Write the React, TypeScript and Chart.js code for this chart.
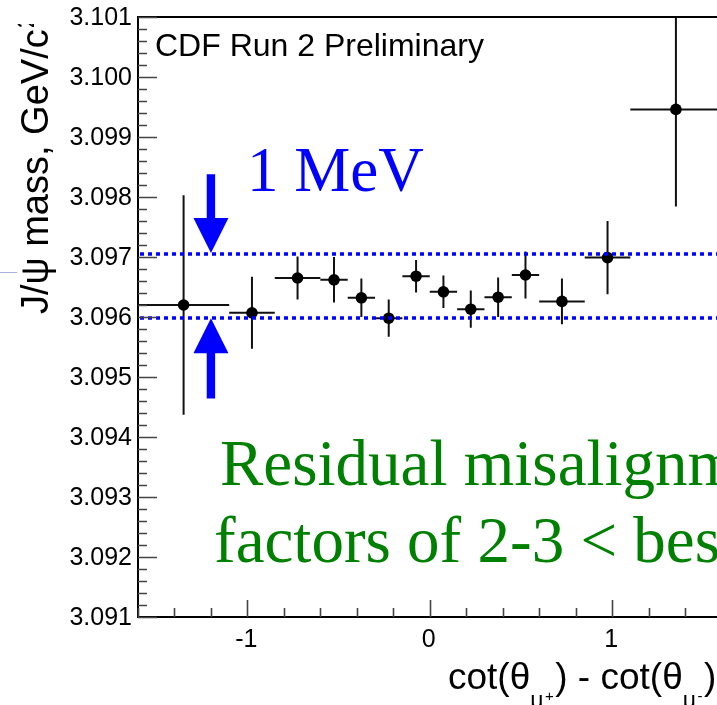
import { useEffect, useRef } from "react";
import { Chart, registerables } from "chart.js";

Chart.register(...registerables);

// Canvas is a little wider than the window so the frame runs past the right edge
const CANVAS_W = 740;
const CANVAS_H = 705;

const X_MIN = -1.6;
const X_MAX = 1.6;
const Y_MIN = 3.091;
const Y_MAX = 3.101;

// Bin edges in cot(theta mu+) - cot(theta mu-)
const binEdges = [-1.6, -1.1, -0.85, -0.6, -0.45, -0.3, -0.15, 0, 0.15, 0.3, 0.45, 0.6, 0.85, 1.1, 1.6];
// Mean J/psi mass per bin, GeV/c^2
const massValues = [
  3.0962, 3.09607, 3.09665, 3.09662, 3.09632, 3.09598, 3.09668,
  3.09642, 3.09613, 3.09633, 3.0967, 3.09626, 3.09699, 3.09946,
];
// Uncertainty on the mean, GeV/c^2
const massErrors = [
  0.00183, 0.0006, 0.00036, 0.00038, 0.00032, 0.00031, 0.00027,
  0.00027, 0.00031, 0.00033, 0.00039, 0.00038, 0.00061, 0.00162,
];
// The 1 MeV band
const bandLimits = [3.09598, 3.09705];
// Arrows marking the band: x position and tail ends (upper arrow, lower arrow)
const arrowX = -1.2;
const arrowTails = [3.09838, 3.09464];

const yTickValues = [3.091, 3.092, 3.093, 3.094, 3.095, 3.096, 3.097, 3.098, 3.099, 3.1, 3.101];
const yTickLabels = ["3.091", "3.092", "3.093", "3.094", "3.095", "3.096", "3.097", "3.098", "3.099", "3.100", "3.101"];
const xTickValues = [-1, 0, 1];
const xTickLabels = ["-1", "0", "1"];

const SANS = "'Liberation Sans', Arial, Helvetica, sans-serif";
const SERIF = "'Liberation Serif', 'Times New Roman', serif";
const BLUE = "#0000ff";
const GREEN = "#008000";

function drawArrow(ctx: CanvasRenderingContext2D, x: number, yTail: number, yTip: number) {
  const dir = yTip > yTail ? 1 : -1;
  const headLen = 35;
  const headHalf = 17.5;
  const shaftHalf = 4.2;
  const yBase = yTip - dir * headLen;
  ctx.beginPath();
  ctx.moveTo(x - shaftHalf, yTail);
  ctx.lineTo(x + shaftHalf, yTail);
  ctx.lineTo(x + shaftHalf, yBase);
  ctx.lineTo(x + headHalf, yBase);
  ctx.lineTo(x, yTip);
  ctx.lineTo(x - headHalf, yBase);
  ctx.lineTo(x - shaftHalf, yBase);
  ctx.closePath();
  ctx.fill();
}

const rootStyle = {
  id: "rootStyle",
  beforeDatasetsDraw(chart: any) {
    const { ctx, chartArea: a } = chart;
    const x = chart.scales.x;
    const y = chart.scales.y;
    ctx.save();
    ctx.beginPath();
    ctx.rect(a.left, a.top, a.right - a.left, a.bottom - a.top);
    ctx.clip();
    ctx.strokeStyle = "#111";
    ctx.lineWidth = 2;
    for (let i = 0; i < massValues.length; i++) {
      const lo = binEdges[i];
      const hi = binEdges[i + 1];
      const xc = x.getPixelForValue((lo + hi) / 2);
      const yc = y.getPixelForValue(massValues[i]);
      ctx.beginPath();
      ctx.moveTo(x.getPixelForValue(lo), yc);
      ctx.lineTo(x.getPixelForValue(hi), yc);
      ctx.moveTo(xc, y.getPixelForValue(massValues[i] + massErrors[i]));
      ctx.lineTo(xc, y.getPixelForValue(massValues[i] - massErrors[i]));
      ctx.stroke();
    }
    ctx.restore();
  },
  afterDatasetsDraw(chart: any) {
    const { ctx, chartArea: a } = chart;
    const y = chart.scales.y;
    ctx.save();
    ctx.strokeStyle = BLUE;
    ctx.lineWidth = 3.5;
    ctx.setLineDash([4, 4]);
    for (const v of bandLimits) {
      const py = Math.round(y.getPixelForValue(v));
      ctx.beginPath();
      ctx.moveTo(a.left + 2, py);
      ctx.lineTo(a.right, py);
      ctx.stroke();
    }
    ctx.restore();
  },
  afterDraw(chart: any) {
    const { ctx, chartArea: a } = chart;
    const x = chart.scales.x;
    const y = chart.scales.y;
    ctx.save();

    // frame
    ctx.strokeStyle = "#000";
    ctx.lineWidth = 2;
    ctx.beginPath();
    ctx.moveTo(a.right, a.top);
    ctx.lineTo(a.left, a.top);
    ctx.lineTo(a.left, a.bottom);
    ctx.lineTo(a.right, a.bottom);
    ctx.lineTo(a.right, a.top);
    ctx.stroke();

    // inward tick marks
    ctx.strokeStyle = "#444";
    ctx.lineWidth = 1.6;
    ctx.beginPath();
    for (let k = 0; k <= 50; k++) {
      const py = Math.round(y.getPixelForValue(Y_MIN + k * 0.0002)) + 0.5;
      const len = k % 5 === 0 ? 19 : 9;
      ctx.moveTo(a.left, py);
      ctx.lineTo(a.left + len, py);
    }
    for (let k = 0; k <= 16; k++) {
      const v = X_MIN + k * 0.2;
      const px = Math.round(x.getPixelForValue(v)) + 0.5;
      const len = Math.abs(v - Math.round(v)) < 1e-6 ? 17 : 9;
      ctx.moveTo(px, a.bottom);
      ctx.lineTo(px, a.bottom - len);
    }
    ctx.stroke();

    // tick labels
    ctx.fillStyle = "#000";
    ctx.font = `25px ${SANS}`;
    ctx.textAlign = "right";
    ctx.textBaseline = "middle";
    yTickValues.forEach((v, i) => {
      ctx.fillText(yTickLabels[i], a.left - 6, y.getPixelForValue(v) + 1);
    });
    ctx.textAlign = "center";
    ctx.textBaseline = "alphabetic";
    xTickValues.forEach((v, i) => {
      ctx.fillText(xTickLabels[i], x.getPixelForValue(v) - 1, a.bottom + 30);
    });

    // x-axis title with sub- and superscripts
    const parts: [string, number, number][] = [
      ["cot(\u03b8", 37, 0],
      ["\u03bc", 23, 19],
      ["+", 15, 12],
      [")", 37, 0],
      [" - cot(\u03b8", 37, 0],
      ["\u03bc", 23, 19],
      ["-", 15, 12],
      [")", 37, 0],
    ];
    ctx.textAlign = "left";
    let cx = 448;
    const base = a.bottom + 72;
    for (const [t, size, dy] of parts) {
      ctx.font = `${size}px ${SANS}`;
      ctx.fillText(t, cx, base + dy);
      cx += ctx.measureText(t).width + (size < 30 ? 1.5 : 0);
    }

    // y-axis title, rotated; its superscript runs off the top of the pad
    ctx.save();
    ctx.beginPath();
    ctx.rect(0, 24, 70, CANVAS_H - 24);
    ctx.clip();
    ctx.translate(48, 314);
    ctx.rotate(-Math.PI / 2);
    ctx.font = `38px ${SANS}`;
    const yTitle = "J/\u03c8 mass, GeV/c";
    ctx.fillText(yTitle, 0, 0);
    const w = ctx.measureText(yTitle).width;
    ctx.font = `24px ${SANS}`;
    ctx.fillText("2", w + 1, -14);
    ctx.restore();

    // experiment label
    ctx.font = `32px ${SANS}`;
    ctx.fillText("CDF Run 2 Preliminary", 155, 56);

    // 1 MeV band annotation
    ctx.fillStyle = BLUE;
    ctx.font = `63px ${SERIF}`;
    ctx.fillText("1 MeV", 247, 191);
    const ax = x.getPixelForValue(arrowX);
    drawArrow(ctx, ax, y.getPixelForValue(arrowTails[0]), y.getPixelForValue(bandLimits[1]) - 1);
    drawArrow(ctx, ax, y.getPixelForValue(arrowTails[1]), y.getPixelForValue(bandLimits[0]));

    ctx.fillStyle = GREEN;
    ctx.font = `65px ${SERIF}`;
    ctx.fillText("Residual misalignment", 220, 485);
    ctx.fillText("factors of 2-3 < best", 214, 562);

    // thin rule at the left margin
    ctx.strokeStyle = "#a8b4dc";
    ctx.lineWidth = 1;
    ctx.beginPath();
    ctx.moveTo(0, 272.5);
    ctx.lineTo(17, 272.5);
    ctx.stroke();

    ctx.restore();
  },
};

export default function App() {
  const canvasRef = useRef<HTMLCanvasElement | null>(null);

  useEffect(() => {
    const canvas = canvasRef.current;
    if (!canvas) return;
    const points = massValues.map((m, i) => ({
      x: (binEdges[i] + binEdges[i + 1]) / 2,
      y: m,
    }));
    const chart = new Chart(canvas, {
      type: "scatter",
      data: {
        datasets: [
          {
            data: points,
            pointRadius: 5.8,
            pointBackgroundColor: "#000",
            pointBorderColor: "#000",
            pointBorderWidth: 0,
            showLine: false,
          },
        ],
      },
      options: {
        animation: false,
        responsive: false,
        maintainAspectRatio: false,
        devicePixelRatio: 1,
        events: [],
        layout: {
          padding: { left: 138, top: 17, right: CANVAS_W - 721.5, bottom: CANVAS_H - 617 },
        },
        scales: {
          x: { type: "linear", min: X_MIN, max: X_MAX, display: false },
          y: { type: "linear", min: Y_MIN, max: Y_MAX, display: false },
        },
        plugins: {
          legend: { display: false },
          tooltip: { enabled: false },
        },
      },
      plugins: [rootStyle],
    });
    return () => chart.destroy();
  }, []);

  return (
    <div
      style={{
        position: "fixed",
        left: 0,
        top: 0,
        width: 717,
        height: 705,
        overflow: "hidden",
        background: "#fff",
      }}
    >
      <canvas
        ref={canvasRef}
        width={CANVAS_W}
        height={CANVAS_H}
        style={{ display: "block", width: CANVAS_W, height: CANVAS_H }}
      />
    </div>
  );
}
